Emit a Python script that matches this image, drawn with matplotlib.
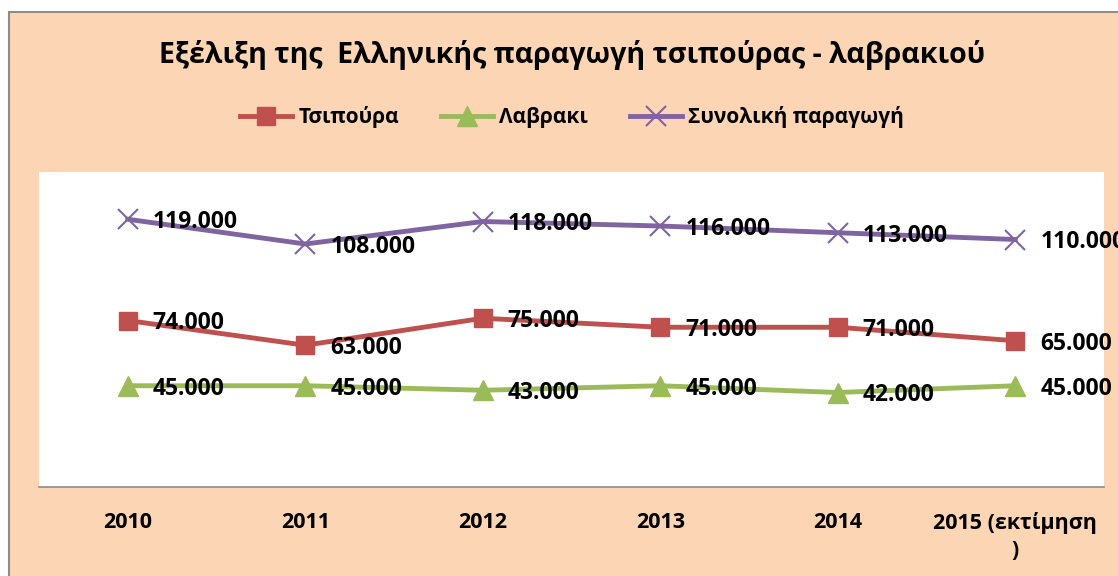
import matplotlib
matplotlib.use("Agg")
import matplotlib.pyplot as plt
from matplotlib.patches import Rectangle

plt.rcParams['font.family'] = ['Open Sans', 'Noto Sans', 'DejaVu Sans']

categories = ["2010", "2011", "2012", "2013", "2014", "2015 (εκτίμηση\n)"]
tsipoura = [74, 63, 75, 71, 71, 65]
lavraki = [45, 45, 43, 45, 42, 45]
synoliki = [119, 108, 118, 116, 113, 110]
series_names = ["Τσιπούρα", "Λαβρακι", "Συνολική παραγωγή"]
title = "Εξέλιξη της  Ελληνικής παραγωγή τσιπούρας - λαβρακιού"

W, H = 1118, 576
fig = plt.figure(figsize=(W / 100, H / 100), dpi=100, facecolor="white")
peach = "#FCD5B5"
fig.patches.append(Rectangle((9 / W, -0.01), 1.02, 1 - 12 / H + 0.01, transform=fig.transFigure,
                             facecolor=peach, edgecolor="#8C8C8C", linewidth=1.5, zorder=-5))

ax = fig.add_axes([39 / W, (H - 487) / H, (1104 - 39) / W, (487 - 172) / H], zorder=2)
ax.set_facecolor("white")
x = list(range(len(categories)))

red, green, purple = "#C0504D", "#9BBB59", "#8064A2"
l1, = ax.plot(x, tsipoura, color=red, lw=3.5, marker="s", ms=13, mec=red, mfc=red, label=series_names[0], zorder=3)
l2, = ax.plot(x, lavraki, color=green, lw=3.5, marker="^", ms=14, mec=green, mfc=green, label=series_names[1], zorder=3)
l3, = ax.plot(x, synoliki, color=purple, lw=3.5, marker="x", ms=15, mew=1.5, mec=purple, label=series_names[2], zorder=3)

for vals in (tsipoura, lavraki, synoliki):
    for xi, v in zip(x, vals):
        ax.annotate(f"{v}.000", (xi, v), xytext=(18, -2), textcoords="offset points",
                    ha="left", va="center", fontsize=16.5, fontweight="bold", color="black",
                    annotation_clip=False, zorder=4)

ax.set_xlim(-0.5, 5.5)
ax.set_ylim(0, 140)
ax.set_yticks([])
ax.set_xticks(x)
ax.set_xticklabels(categories, fontsize=15.5, fontweight="bold", linespacing=1.35)
ax.tick_params(axis="x", length=0, pad=18)
for s in ("top", "left", "right"):
    ax.spines[s].set_visible(False)
ax.spines["bottom"].set_color("#8C8C8C")
ax.spines["bottom"].set_linewidth(1.2)

fig.text(572 / W, 1 - 55 / H, title, ha="center", va="center", fontsize=20.5, fontweight="bold")
fig.legend(handles=[l1, l2, l3], loc="center", bbox_to_anchor=(572 / W, 1 - 117 / H), ncol=3,
           frameon=False, prop={"size": 15, "weight": "bold"}, handlelength=2.5,
           columnspacing=2.0, handletextpad=0.3)

fig.savefig("out.png", dpi=100, facecolor=fig.get_facecolor())
